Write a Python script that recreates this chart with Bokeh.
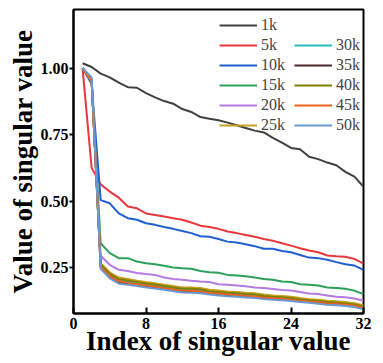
from bokeh.plotting import figure
from bokeh.models import Range1d, FixedTicker, Legend, LegendItem, PrintfTickFormatter
from bokeh.embed import file_html
from bokeh.resources import INLINE

idx = list(range(1, 33))

labels = ["1k", "5k", "10k", "15k", "20k", "25k", "30k", "35k", "40k", "45k", "50k"]
colors = ["#404040", "#e8383d", "#1f5fd0", "#2ca05a", "#b57be0", "#c8a020",
          "#20c0c0", "#4a2a2a", "#808000", "#f06020", "#6a9ad0"]

s1k = [1.018, 1.004, 0.979, 0.965, 0.945, 0.928, 0.926, 0.906, 0.890, 0.876, 0.866, 0.846,
       0.835, 0.816, 0.810, 0.804, 0.795, 0.785, 0.775, 0.765, 0.758, 0.738, 0.720, 0.700,
       0.695, 0.667, 0.658, 0.645, 0.635, 0.610, 0.592, 0.554]
s5k = [1.000, 0.625, 0.563, 0.536, 0.513, 0.480, 0.473, 0.454, 0.448, 0.442, 0.436, 0.430,
       0.420, 0.408, 0.403, 0.396, 0.386, 0.380, 0.373, 0.366, 0.358, 0.351, 0.342, 0.333,
       0.323, 0.315, 0.308, 0.296, 0.293, 0.291, 0.283, 0.265]
s10k = [1.000, 0.940, 0.504, 0.492, 0.454, 0.436, 0.430, 0.417, 0.411, 0.403, 0.396, 0.388,
        0.380, 0.368, 0.366, 0.358, 0.348, 0.345, 0.338, 0.331, 0.321, 0.321, 0.313, 0.308,
        0.298, 0.288, 0.286, 0.280, 0.271, 0.263, 0.258, 0.242]
s15k = [1.000, 0.950, 0.342, 0.305, 0.286, 0.286, 0.273, 0.267, 0.263, 0.257, 0.251, 0.248,
        0.246, 0.238, 0.233, 0.231, 0.223, 0.221, 0.218, 0.213, 0.208, 0.205, 0.198, 0.196,
        0.188, 0.186, 0.183, 0.176, 0.174, 0.171, 0.164, 0.151]
s20k = [1.000, 0.950, 0.295, 0.261, 0.242, 0.238, 0.230, 0.226, 0.223, 0.213, 0.208, 0.205,
        0.201, 0.198, 0.196, 0.188, 0.186, 0.183, 0.180, 0.176, 0.174, 0.170, 0.166, 0.164,
        0.159, 0.153, 0.151, 0.146, 0.141, 0.139, 0.134, 0.126]
s25k = [1.000, 0.950, 0.267, 0.233, 0.213, 0.208, 0.201, 0.196, 0.192, 0.186, 0.181, 0.176,
        0.176, 0.174, 0.167, 0.164, 0.161, 0.159, 0.156, 0.154, 0.149, 0.146, 0.144, 0.141,
        0.136, 0.132, 0.130, 0.126, 0.124, 0.121, 0.117, 0.109]
s30k = [1.000, 0.960, 0.257, 0.222, 0.202, 0.197, 0.191, 0.186, 0.182, 0.176, 0.171, 0.166,
        0.166, 0.164, 0.158, 0.155, 0.152, 0.150, 0.147, 0.145, 0.140, 0.138, 0.136, 0.133,
        0.128, 0.125, 0.122, 0.118, 0.116, 0.114, 0.110, 0.103]
s35k = [1.000, 0.955, 0.250, 0.215, 0.195, 0.190, 0.185, 0.180, 0.176, 0.171, 0.166, 0.161,
        0.160, 0.158, 0.153, 0.150, 0.147, 0.145, 0.142, 0.140, 0.135, 0.133, 0.131, 0.128,
        0.124, 0.121, 0.118, 0.114, 0.112, 0.109, 0.105, 0.097]
s40k = [1.000, 0.958, 0.262, 0.227, 0.207, 0.202, 0.196, 0.191, 0.187, 0.181, 0.176, 0.171,
        0.171, 0.169, 0.162, 0.159, 0.156, 0.154, 0.151, 0.149, 0.144, 0.141, 0.139, 0.136,
        0.131, 0.128, 0.125, 0.121, 0.119, 0.116, 0.112, 0.105]
s45k = [1.000, 0.952, 0.254, 0.218, 0.199, 0.193, 0.188, 0.183, 0.179, 0.173, 0.168, 0.163,
        0.163, 0.161, 0.155, 0.152, 0.149, 0.147, 0.144, 0.142, 0.137, 0.135, 0.133, 0.130,
        0.126, 0.123, 0.120, 0.116, 0.114, 0.111, 0.107, 0.100]
s50k = [1.000, 0.965, 0.246, 0.210, 0.190, 0.186, 0.181, 0.176, 0.172, 0.167, 0.162, 0.157,
        0.156, 0.154, 0.149, 0.146, 0.143, 0.141, 0.138, 0.136, 0.132, 0.130, 0.128, 0.125,
        0.121, 0.118, 0.115, 0.111, 0.109, 0.106, 0.102, 0.094]

series = [s1k, s5k, s10k, s15k, s20k, s25k, s30k, s35k, s40k, s45k, s50k]

x_ticks = [0, 8, 16, 24, 32]
y_ticks = [0.25, 0.50, 0.75, 1.00]

FONT = "Liberation Serif"

p = figure(width=380, height=358, output_backend="svg", toolbar_location=None,
           x_range=Range1d(0, 32), y_range=Range1d(0.078, 1.22),
           min_border_left=73, min_border_right=17, min_border_top=9, min_border_bottom=44)
p.grid.visible = False
p.outline_line_color = "black"
p.outline_line_width = 2
p.background_fill_color = "white"
p.border_fill_color = "white"

renderers = []
for s, c in zip(series, colors):
    r = p.line(idx, s, line_color=c, line_width=2)
    renderers.append(r)
dummy = p.line([], [], line_alpha=0)

items = [LegendItem(label=l, renderers=[r]) for l, r in zip(labels[:6], renderers[:6])]
items.append(LegendItem(label=" ", renderers=[dummy]))
items += [LegendItem(label=l, renderers=[r]) for l, r in zip(labels[6:], renderers[6:])]

legend = Legend(items=items, nrows=6, location=(146, 179))
legend.background_fill_alpha = 0
legend.border_line_alpha = 0
legend.label_text_font = FONT
legend.label_text_font_size = "16px"
legend.glyph_width = 38
legend.glyph_height = 14
legend.label_height = 14
legend.label_width = 31
legend.label_standoff = 4
legend.spacing = 2
legend.padding = 0
legend.margin = 0
p.add_layout(legend)

p.xaxis.ticker = FixedTicker(ticks=x_ticks)
p.yaxis.ticker = FixedTicker(ticks=y_ticks)
p.yaxis.formatter = PrintfTickFormatter(format="%.2f")
p.xaxis.minor_tick_line_color = None
p.yaxis.minor_tick_line_color = None
p.xaxis.major_tick_in = 6
p.xaxis.major_tick_out = 0
p.yaxis.major_tick_in = 0
p.yaxis.major_tick_out = 4
p.yaxis.major_label_standoff = 1
p.xaxis.major_label_standoff = 4
for ax in (p.xaxis, p.yaxis):
    ax.axis_line_width = 2
    ax.axis_line_color = "black"
    ax.major_tick_line_width = 2
    ax.major_label_text_font = FONT
    ax.major_label_text_font_style = "bold"
    ax.major_label_text_font_size = "16px"
    ax.major_label_text_color = "black"
    ax.axis_label_text_font = FONT
    ax.axis_label_text_font_style = "bold"
    ax.axis_label_text_color = "black"
p.xaxis.axis_label = "Index of singular value"
p.yaxis.axis_label = "Value of singular value"
p.xaxis.axis_label_text_font_size = "27px"
p.yaxis.axis_label_text_font_size = "27px"
p.xaxis.axis_label_standoff = -6
p.yaxis.axis_label_standoff = 0

open("out.html", "w").write(file_html(p, INLINE))
